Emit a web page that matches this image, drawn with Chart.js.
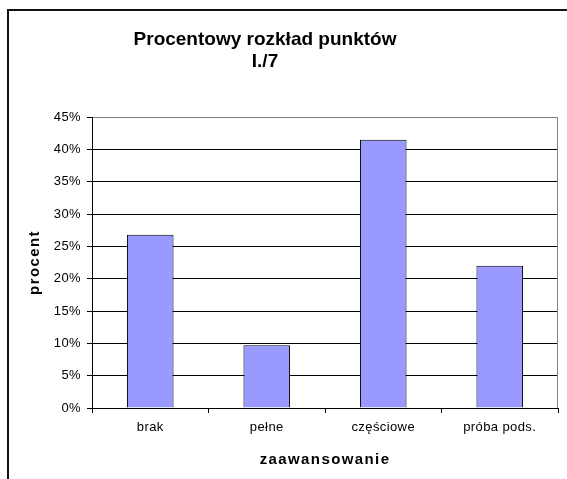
<!DOCTYPE html>
<html>
<head>
<meta charset="utf-8">
<script src="https://cdn.jsdelivr.net/npm/chart.js@4.4.1/dist/chart.umd.min.js"></script>
<style>
html,body{margin:0;padding:0;background:#fff;overflow:hidden;}
#wrap{position:relative;width:567px;height:479px;overflow:hidden;background:#fff;}
#cap{position:absolute;left:40px;top:-28px;z-index:2;font-family:"Liberation Serif","Times New Roman",serif;font-size:24px;white-space:nowrap;color:#000;letter-spacing:1px;}
canvas{position:absolute;left:0;top:0;z-index:1;}
</style>
</head>
<body>
<div id="wrap">
  <div id="cap">Wykres ogólny (typ pomiarowy) (przykład)</div>
  <canvas id="c" width="567" height="479"></canvas>
</div>
<script>
// ---- data ----
const categories = ['brak', 'pełne', 'częściowe', 'próba pods.'];
const percentValues = [26.8, 9.7, 41.5, 22.0];
const titleLines = ['Procentowy rozkład punktów', 'I./7'];
const xAxisTitle = 'zaawansowanie';
const yAxisTitle = 'procent';
const yMin = 0, yMax = 45, yStep = 5;

// ---- plugins ----
const framePlugin = {
  id: 'frame',
  beforeDraw(chart) {
    const ctx = chart.ctx;
    ctx.save();
    ctx.fillStyle = '#fff';
    ctx.fillRect(0, 0, chart.width, chart.height);
    ctx.strokeStyle = '#111';
    ctx.lineWidth = 2;
    ctx.beginPath();
    ctx.moveTo(8, chart.height + 5);
    ctx.lineTo(8, 10);
    ctx.lineTo(chart.width + 5, 10);
    ctx.stroke();
    ctx.restore();
    // letter spacing for axis texts
    Object.values(chart.scales).forEach(s => {
      if (s._lsPatched) return;
      s._lsPatched = true;
      const dt = s.drawTitle, dl = s.drawLabels;
      s.drawTitle = function (...a) { const c = this.ctx; c.save(); c.letterSpacing = '1.4px'; dt.apply(this, a); c.restore(); };
      s.drawLabels = function (...a) { const c = this.ctx; c.save(); c.letterSpacing = '0.4px'; dl.apply(this, a); c.restore(); };
    });
  },
  afterLayout(chart) {
    const t = chart.titleBlock;
    if (t) { t.left = 8; t.right = 522; }
  },
  beforeDatasetsDraw(chart) {
    const {ctx, chartArea: a} = chart;
    ctx.save();
    ctx.strokeStyle = '#808080';
    ctx.lineWidth = 1;
    ctx.beginPath();
    const x = Math.round(a.right) - 0.5;
    ctx.moveTo(x, a.top);
    ctx.lineTo(x, a.bottom);
    ctx.stroke();
    ctx.restore();
  }
};

const FONT = '"Liberation Sans", Arial, Helvetica, sans-serif';

new Chart(document.getElementById('c'), {
  type: 'bar',
  data: {
    labels: categories,
    datasets: [{
      data: percentValues,
      backgroundColor: '#9999FF',
      borderColor: '#000',
      borderWidth: 1,
      barPercentage: 0.4,
      categoryPercentage: 1.0
    }]
  },
  options: {
    responsive: false,
    animation: false,
    devicePixelRatio: 1,
    layout: { padding: { left: 0, right: 9, top: 0, bottom: 0 } },
    plugins: {
      legend: { display: false },
      tooltip: { enabled: false },
      title: {
        display: true,
        text: titleLines,
        color: '#000',
        font: { family: FONT, size: 19, weight: 'bold', lineHeight: 21.5 / 19 },
        padding: { top: 29.5, bottom: 44.5 }
      }
    },
    scales: {
      x: {
        offset: true,
        grid: { display: true, offset: true, drawOnChartArea: false, drawTicks: true, tickLength: 5, tickColor: '#000', color: '#000' },
        border: { display: true, color: '#000', width: 1 },
        ticks: { color: '#000', font: { family: FONT, size: 13 }, padding: 7, maxRotation: 0 },
        title: { display: true, text: xAxisTitle, color: '#000', font: { family: FONT, size: 15, weight: 'bold' }, padding: { top: 0, bottom: 10 } },
        afterFit(scale) { scale.height = 71; }
      },
      y: {
        min: yMin,
        max: yMax,
        ticks: { stepSize: yStep, color: '#000', font: { family: FONT, size: 13 }, padding: 6, callback: v => v + '%' },
        grid: {
          color: c => (c.tick && c.tick.value === yMax) ? '#808080' : '#000',
          tickColor: '#000',
          lineWidth: 1,
          tickLength: 5
        },
        border: { display: true, color: '#000', width: 1 },
        title: { display: true, text: yAxisTitle, color: '#000', font: { family: FONT, size: 15, weight: 'bold' }, padding: { top: 26, bottom: 0 } },
        afterFit(scale) { scale.width = 92; }
      }
    }
  },
  plugins: [framePlugin]
});
</script>
</body>
</html>
